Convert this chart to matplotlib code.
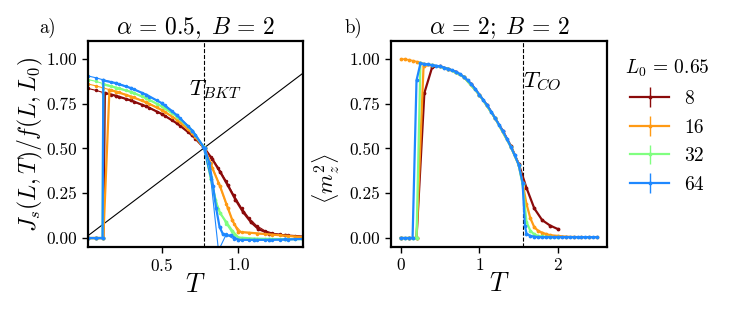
import matplotlib
matplotlib.use("Agg")
import matplotlib.pyplot as plt

plt.rcParams['font.family'] = 'cmr10'
plt.rcParams['mathtext.fontset'] = 'cm'
plt.rcParams['axes.formatter.use_mathtext'] = True
plt.rcParams['axes.linewidth'] = 1.6

sizes = ['8', '16', '32', '64']
colors = ['#8b0a0a', '#ff9a14', '#80ff80', '#1e88ff']

# ---- panel a: J_s(L,T)/f(L,L0), alpha = 0.5 ----
# cold-start runs (thick lines)
T8 = [0.02, 0.07, 0.12, 0.13, 0.2, 0.3, 0.4, 0.5, 0.6, 0.7, 0.78, 0.83, 0.88, 0.93, 0.98, 1.03, 1.08, 1.13, 1.2, 1.3, 1.42]
J8 = [0, 0, 0, 0.81, 0.795, 0.768, 0.735, 0.693, 0.64, 0.573, 0.50, 0.44, 0.37, 0.295, 0.215, 0.145, 0.09, 0.05, 0.025, 0.015, 0.008]
T16 = [0.02, 0.07, 0.12, 0.16, 0.2, 0.3, 0.4, 0.5, 0.6, 0.7, 0.78, 0.83, 0.88, 0.93, 0.96, 1.0, 1.42]
J16 = [0, 0, 0, 0.828, 0.818, 0.79, 0.757, 0.715, 0.66, 0.585, 0.50, 0.39, 0.29, 0.17, 0.10, 0.035, 0.005]
T32 = [0.02, 0.07, 0.115, 0.12, 0.2, 0.3, 0.4, 0.5, 0.6, 0.7, 0.78, 0.82, 0.85, 0.88, 0.92, 0.96, 1.0, 1.1, 1.2, 1.3, 1.42]
J32 = [0, 0, 0, 0.858, 0.84, 0.816, 0.78, 0.735, 0.678, 0.598, 0.50, 0.33, 0.21, 0.14, 0.09, 0.04, 0.003, -0.003, -0.005, -0.006, -0.006]
T64 = [0.02, 0.07, 0.115, 0.12, 0.2, 0.3, 0.4, 0.5, 0.6, 0.7, 0.78, 0.81, 0.835, 0.855, 0.877, 0.9, 0.92, 0.95, 1.0, 1.1, 1.2, 1.3, 1.42]
J64 = [0, 0, 0, 0.88, 0.865, 0.837, 0.80, 0.753, 0.685, 0.60, 0.50, 0.42, 0.29, 0.165, 0.062, 0.02, 0.015, 0.015, -0.01, -0.01, -0.01, -0.008, -0.005]

# hot-start runs (thin lines), common temperature grid
T_fine = [0.02, 0.07, 0.12, 0.17, 0.22, 0.27, 0.32, 0.37, 0.42, 0.47, 0.52, 0.57, 0.62, 0.67, 0.72,
          0.77, 0.82, 0.87, 0.92, 0.97, 1.02, 1.07, 1.12, 1.17, 1.22, 1.27, 1.32, 1.37, 1.42]
J8_fine = [0.835, 0.825, 0.812, 0.800, 0.788, 0.775, 0.760, 0.744, 0.726, 0.706, 0.683, 0.657, 0.627, 0.593, 0.553,
           0.508, 0.455, 0.392, 0.318, 0.240, 0.168, 0.110, 0.068, 0.042, 0.028, 0.020, 0.015, 0.011, 0.008]
J16_fine = [0.86, 0.85, 0.838, 0.826, 0.814, 0.80, 0.785, 0.768, 0.75, 0.729, 0.705, 0.678, 0.647, 0.61, 0.566,
            0.512, 0.42, 0.31, 0.19, 0.08, 0.032, 0.028, 0.025, 0.021, 0.018, 0.015, 0.012, 0.008, 0.005]
J32_fine = [0.885, 0.875, 0.862, 0.85, 0.838, 0.825, 0.81, 0.792, 0.772, 0.75, 0.726, 0.697, 0.664, 0.624, 0.574,
            0.515, 0.34, 0.16, 0.08, 0.015, 0.0, -0.004, -0.006, -0.006, -0.007, -0.007, -0.007, -0.006, -0.006]
J64_fine = [0.905, 0.895, 0.883, 0.872, 0.86, 0.847, 0.83, 0.812, 0.79, 0.768, 0.744, 0.71, 0.67, 0.628, 0.578,
            0.51, 0.33, -0.07, 0.02, -0.005, -0.01, -0.01, -0.01, -0.01, -0.01, -0.01, -0.01, -0.008, -0.005]

T_bkt = 0.775
# universal jump line, drawn across the plotted range
T_line = [0.02, 1.42]
slope_line = 0.648

# ---- panel b: <m_z^2>, alpha = 2 ----
Tb8 = [0.0, 0.1, 0.2, 0.3, 0.4, 0.5, 0.6, 0.7, 0.8, 0.9, 1.0, 1.1, 1.2, 1.3, 1.4, 1.5, 1.6, 1.7, 1.8, 1.9, 2.0]
M8 = [0, 0, 0, 0.81, 0.955, 0.958, 0.945, 0.928, 0.90, 0.858, 0.80, 0.74, 0.67, 0.597, 0.515, 0.415, 0.28, 0.165, 0.10, 0.07, 0.05]
Tb16_hot = [0.0, 0.05, 0.1, 0.15, 0.2, 0.25, 0.3]
M16_hot = [1.0, 0.998, 0.995, 0.99, 0.985, 0.979, 0.973]
Tb16 = [0.0, 0.1, 0.2, 0.29, 0.4, 0.6, 0.8, 1.0, 1.2, 1.4, 1.5, 1.55, 1.6, 1.65, 1.7, 1.75, 1.8, 1.85, 1.9,
        2.0, 2.1, 2.2, 2.3, 2.4, 2.5]
M16 = [0, 0, 0, 0.962, 0.965, 0.945, 0.90, 0.80, 0.67, 0.51, 0.41, 0.31, 0.19, 0.11, 0.06, 0.04, 0.03, 0.022, 0.016,
       0.012, 0.008, 0.006, 0.005, 0.005, 0.005]
Tb32 = [0.0, 0.05, 0.1, 0.15, 0.2, 0.25, 0.4, 0.6, 0.8, 1.0, 1.2, 1.4, 1.5, 1.55, 1.6, 1.65, 1.7, 1.75, 1.8, 1.9, 2.0]
M32 = [0, 0, 0, 0, 0, 0.975, 0.965, 0.945, 0.90, 0.80, 0.67, 0.51, 0.41, 0.30, 0.09, 0.04, 0.02, 0.012, 0.009, 0.006, 0.005]
Tb64 = [0.0, 0.05, 0.1, 0.15, 0.2, 0.25, 0.3, 0.35, 0.4, 0.45, 0.5, 0.55, 0.6, 0.65, 0.7, 0.75, 0.8, 0.85, 0.9, 0.95,
        1.0, 1.05, 1.1, 1.15, 1.2, 1.25, 1.3, 1.35, 1.4, 1.45, 1.5, 1.55, 1.58, 1.6, 1.65, 1.7, 1.75, 1.8, 1.85,
        1.9, 1.95, 2.0, 2.05, 2.1, 2.15, 2.2, 2.25, 2.3, 2.35, 2.4, 2.45, 2.5]
M64 = [0, 0, 0, 0, 0.88, 0.975, 0.972, 0.969, 0.965, 0.962, 0.958, 0.952, 0.945, 0.937, 0.928, 0.916, 0.90, 0.881,
       0.858, 0.831, 0.80, 0.771, 0.74, 0.706, 0.67, 0.633, 0.595, 0.554, 0.51, 0.462, 0.41, 0.31, 0.07, 0.025,
       0.012, 0.008, 0.005, 0.005, 0.005, 0.005, 0.005, 0.005, 0.005, 0.005, 0.005, 0.005, 0.005, 0.005, 0.005,
       0.005, 0.005, 0.005]
T_co = 1.55

err = 0.004

fig = plt.figure(figsize=(7.48, 3.12), dpi=100)
ax1 = fig.add_axes([0.1176, 0.2083, 0.2874, 0.6603])
ax2 = fig.add_axes([0.5227, 0.2083, 0.2888, 0.6603])

# panel a
ax1.plot(T_line, [slope_line * t for t in T_line], color='k', lw=0.8, zorder=1)
ax1.axvline(T_bkt, color='k', ls='--', lw=0.8, zorder=1)
thick_a = [(T8, J8), (T16, J16), (T32, J32), (T64, J64)]
thin_a = [J8_fine, J16_fine, J32_fine, J64_fine]
for i in range(4):
    ax1.errorbar(T_fine, thin_a[i], yerr=err, fmt='.-', color=colors[i], lw=0.8, ms=3, elinewidth=0.8)
    ax1.errorbar(thick_a[i][0], thick_a[i][1], yerr=err, fmt='.-', color=colors[i], lw=1.6, ms=3.5, elinewidth=1)
ax1.text(0.675, 0.8, r'$T_{BKT}$', fontsize=16.5)
ax1.set_xlim(0.02, 1.42)
ax1.set_ylim(-0.05, 1.1)
ax1.set_xticks([0.5, 1.0])
ax1.set_yticks([0, 0.25, 0.5, 0.75, 1.0])
ax1.set_yticklabels(['0.00', '0.25', '0.50', '0.75', '1.00'])
ax1.set_xlabel(r'$T$', fontsize=19, labelpad=-1)
ax1.set_ylabel(r'$J_s(L,T)/f(L,L_0)$', fontsize=17, labelpad=1)
ax1.set_title(r'$\alpha\,=\,0.5,\; B\,=\,2$', fontsize=17, pad=2)

# panel b
ax2.axvline(T_co, color='k', ls='--', lw=0.8, zorder=1)
ax2.errorbar(Tb16_hot, M16_hot, yerr=err, fmt='.-', color=colors[1], lw=1.2, ms=3.5)
data_b = [(Tb8, M8), (Tb16, M16), (Tb32, M32), (Tb64, M64)]
handles = []
for i in range(4):
    h = ax2.errorbar(data_b[i][0], data_b[i][1], yerr=err, fmt='.-', color=colors[i], lw=1.6, ms=3.5, elinewidth=1)
    handles.append(h)
ax2.text(1.555, 0.84, r'$T_{CO}$', fontsize=16.5)
ax2.set_xlim(-0.125, 2.625)
ax2.set_ylim(-0.05, 1.1)
ax2.set_xticks([0, 1, 2])
ax2.set_yticks([0, 0.25, 0.5, 0.75, 1.0])
ax2.set_yticklabels(['0.00', '0.25', '0.50', '0.75', '1.00'])
ax2.set_xlabel(r'$T$', fontsize=19, labelpad=-1)
ax2.set_ylabel(r'$\langle m_z^2 \rangle$', fontsize=16)
ax2.yaxis.set_label_coords(-0.225, 0.33)
ax2.set_title(r'$\alpha\,=\,2;\; B\,=\,2$', fontsize=17, pad=2)

for ax in (ax1, ax2):
    ax.tick_params(labelsize=12.5, length=4, width=1)

fig.legend(handles, sizes, title=r'$L_0\,=\,0.65$', loc='upper left', bbox_to_anchor=(0.812, 0.87),
           frameon=False, fontsize=14, title_fontsize=14, labelspacing=0.55)

fig.text(0.053, 0.895, 'a)', fontsize=13.5)
fig.text(0.46, 0.895, 'b)', fontsize=13.5)

fig.savefig('out.png', dpi=100)
